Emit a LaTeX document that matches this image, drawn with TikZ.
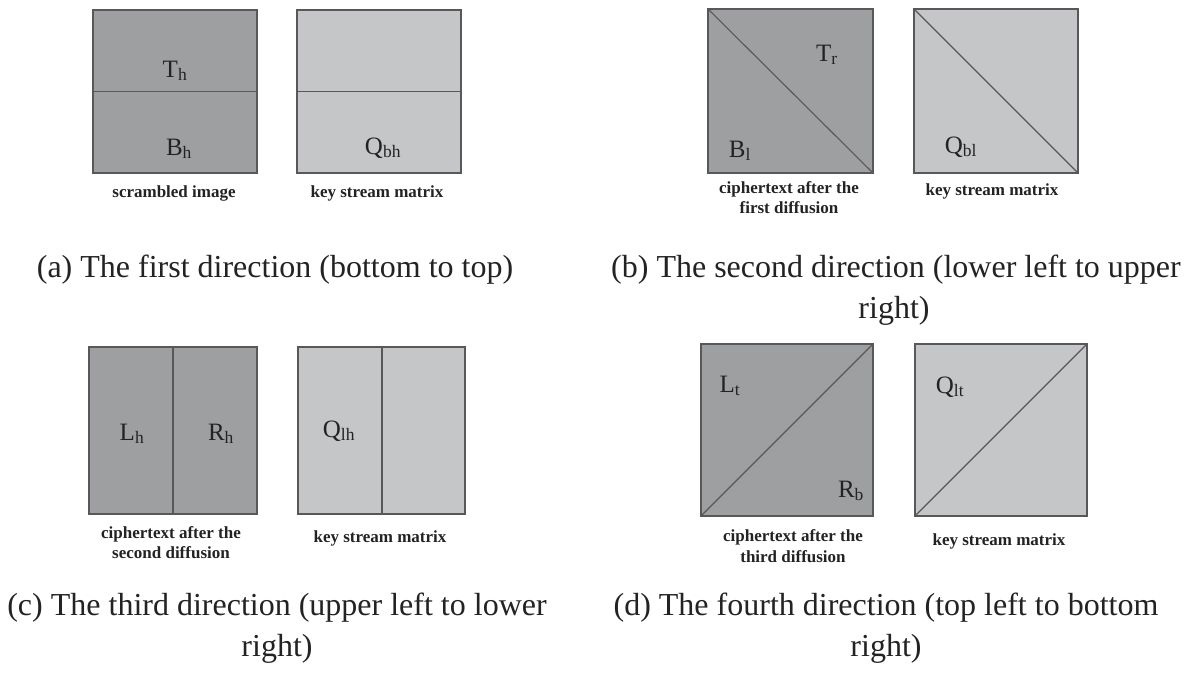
\documentclass[tikz,border=0pt]{standalone}
\usepackage{fontspec}
\setmainfont{Liberation Serif}
\definecolor{darkfill}{RGB}{158,159,161}
\definecolor{lightfill}{RGB}{197,198,200}
\definecolor{edgecol}{RGB}{88,88,90}
\definecolor{txt}{RGB}{35,35,35}
\begin{document}
\begin{tikzpicture}[x=1pt,y=-1pt,
  panelbox/.style={draw=edgecol, line width=1.2pt, inner sep=0pt, outer sep=0pt},
  darkbox/.style={panelbox, fill=darkfill},
  lightbox/.style={panelbox, fill=lightfill},
  splitline/.style={draw=edgecol, line width=1.1pt},
  boxlbl/.style={font=\fontsize{25}{28}\selectfont, text=txt, inner sep=0pt, anchor=base},
  sublbl/.style={font=\bfseries\fontsize{17}{20}\selectfont, text=txt, inner sep=0pt, anchor=base},
  captxt/.style={font=\fontsize{32}{41}\selectfont, text=txt, inner sep=0pt, anchor=base}]
\useasboundingbox[fill=white] (0,0) rectangle (1186,673);

% ---------- (a) ----------
\node[darkbox, minimum width=164pt, minimum height=163pt] (a1) at (175,91.5) {};
\node[lightbox, minimum width=164pt, minimum height=163pt] (a2) at (379,91.5) {};
\draw[splitline] (a1.west) -- (a1.east);
\draw[splitline] (a2.west) -- (a2.east);
\node[boxlbl] (th) at (175,77) {T\textsubscript{h}};
\node[boxlbl] (bh) at (179,155) {B\textsubscript{h}};
\node[boxlbl] (qbh) at (383,154) {Q\textsubscript{bh}};
\node[sublbl] (la1) at (174,197) {scrambled image};
\node[sublbl] (la2) at (377,197) {key stream matrix};
\node[captxt] (capa) at (275,277) {(a) The first direction (bottom to top)};

% ---------- (b) ----------
\node[darkbox, minimum width=165pt, minimum height=164pt] (b1) at (790.5,91) {};
\node[lightbox, minimum width=164pt, minimum height=164pt] (b2) at (996,91) {};
\draw[splitline] (b1.north west) -- (b1.south east);
\draw[splitline] (b2.north west) -- (b2.south east);
\node[boxlbl] (tr) at (827,61) {T\textsubscript{r}};
\node[boxlbl] (bl) at (740,157) {B\textsubscript{l}};
\node[boxlbl] (qbl) at (961,153) {Q\textsubscript{bl}};
\node[sublbl] (lb1) at (789,193) {ciphertext after the};
\node[sublbl] (lb1b) at (789,213) {first diffusion};
\node[sublbl] (lb2) at (992,195) {key stream matrix};
\node[captxt] (capb) at (896,277) {(b) The second direction (lower left to upper};
\node[captxt] (capb2) at (894,318) {right)};

% ---------- (c) ----------
\node[darkbox, minimum width=168pt, minimum height=167pt] (c1) at (173,430.5) {};
\node[lightbox, minimum width=167pt, minimum height=167pt] (c2) at (381.5,430.5) {};
\draw[splitline] (c1.north) -- (c1.south);
\draw[splitline] ([xshift=0.5pt]c2.north) -- ([xshift=0.5pt]c2.south);
\node[boxlbl] (lh) at (132,440) {L\textsubscript{h}};
\node[boxlbl] (rh) at (221,440) {R\textsubscript{h}};
\node[boxlbl] (qlh) at (339,437) {Q\textsubscript{lh}};
\node[sublbl] (lc1) at (171,538) {ciphertext after the};
\node[sublbl] (lc1b) at (171,558) {second diffusion};
\node[sublbl] (lc2) at (380,542) {key stream matrix};
\node[captxt] (capc) at (277,615) {(c) The third direction (upper left to lower};
\node[captxt] (capc2) at (277,656) {right)};

% ---------- (d) ----------
\node[darkbox, minimum width=172pt, minimum height=172pt] (d1) at (787,430) {};
\node[lightbox, minimum width=172pt, minimum height=172pt] (d2) at (1001,430) {};
\draw[splitline] (d1.south west) -- (d1.north east);
\draw[splitline] (d2.south west) -- (d2.north east);
\node[boxlbl] (lt) at (730,392) {L\textsubscript{t}};
\node[boxlbl] (rb) at (851,497) {R\textsubscript{b}};
\node[boxlbl] (qlt) at (950,393) {Q\textsubscript{lt}};
\node[sublbl] (ld1) at (793,541) {ciphertext after the};
\node[sublbl] (ld1b) at (793,562) {third diffusion};
\node[sublbl] (ld2) at (999,545) {key stream matrix};
\node[captxt] (capd) at (886,615) {(d) The fourth direction (top left to bottom};
\node[captxt] (capd2) at (886,656) {right)};
\end{tikzpicture}
\end{document}
